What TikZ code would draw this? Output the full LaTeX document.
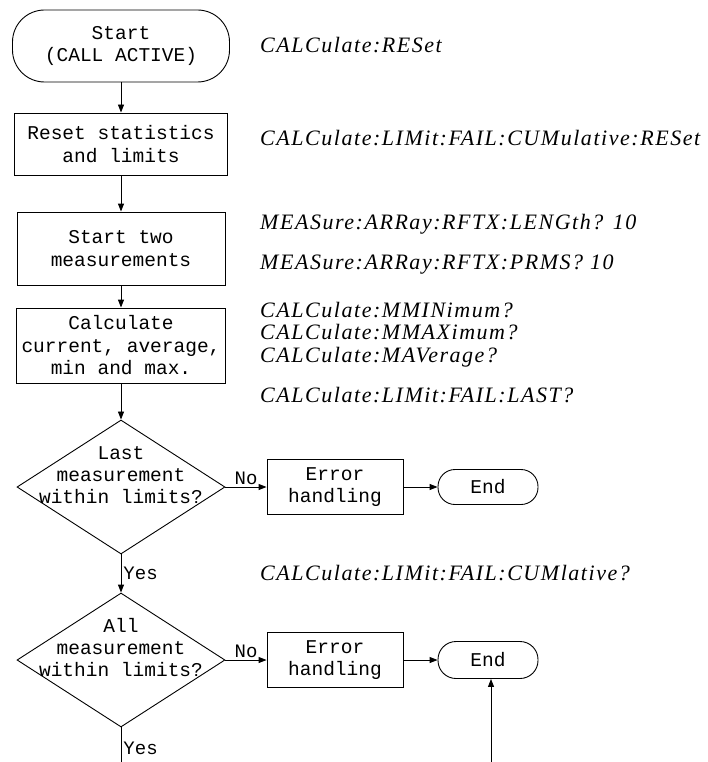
\documentclass[tikz,border=0pt]{standalone}
\usepackage{fontspec}
\setmainfont{Liberation Serif}
\setmonofont{Liberation Mono}
\newfontfamily\cmdfont[LetterSpace=7]{Liberation Serif}
\usetikzlibrary{shapes.geometric, arrows.meta}

\tikzset{
    base/.style = {draw, line width=0.9pt, inner sep=0pt, align=center,
        font=\ttfamily\fontsize{19.5}{22.5}\selectfont},
    box/.style = {base, rectangle},
    term/.style = {base, rectangle},
    decision/.style = {draw, line width=0.9pt, diamond, inner sep=0pt,
        minimum width=208pt, minimum height=134pt},
    dtext/.style = {inner sep=0pt, align=center,
        font=\ttfamily\fontsize{19.5}{22}\selectfont},
    cmd/.style = {anchor=base west, inner sep=0pt,
        font=\cmdfont\itshape\fontsize{22}{22.5}\selectfont},
    lbl/.style = {inner sep=2pt, font=\ttfamily\fontsize{19}{20}\selectfont},
    flow/.style = {line width=0.9pt, -{Triangle[length=8pt, width=6pt]}}
}

\begin{document}
\begin{tikzpicture}[x=1pt, y=-1pt]
    \useasboundingbox (0,0) rectangle (707,762);

    % main column
    \node[term, minimum width=217pt, minimum height=72pt, rounded corners=32pt] (start) at (121,46) {Start\\(CALL ACTIVE)};
    \node[box, minimum width=213pt, minimum height=62pt] (reset) at (121,144) {Reset statistics\\and limits};
    \node[box, minimum width=208pt, minimum height=73pt] (meas) at (121,248.5) {Start two\\measurements};
    \node[box, minimum width=209pt, minimum height=75pt] (calc) at (121,345.5) {Calculate\\current, average,\\min and max.};
    \node[decision] (last) at (121,487) {};
    \node[dtext] (lastq) at ([yshift=12pt]last.center) {Last\\measurement\\within limits?};
    \node[decision] (all) at (121,660) {};
    \node[dtext] (allq) at ([yshift=12pt]all.center) {All\\measurement\\within limits?};
    \coordinate (out) at (121,762);

    % error branches
    \node[box, minimum width=136pt, minimum height=55pt] (err1) at (335,487) {Error\\handling};
    \node[term, minimum width=100pt, minimum height=35pt, rounded corners=17pt] (end1) at (488,487) {End};
    \node[box, minimum width=136pt, minimum height=55pt] (err2) at (335,660) {Error\\handling};
    \node[term, minimum width=100pt, minimum height=37pt, rounded corners=18pt] (end2) at (488,660) {End};
    \coordinate (in) at (491,762);

    \draw[flow] (start) -- (reset);
    \draw[flow] (reset) -- (meas);
    \draw[flow] (meas) -- (calc);
    \draw[flow] (calc) -- (last);
    \draw[flow] (last) -- node[lbl, right] {Yes} (all);
    \draw[flow] (last) -- node[lbl, above] {No} (err1);
    \draw[flow] (err1) -- (end1);
    \draw[flow] (all) -- node[lbl, above] {No} (err2);
    \draw[flow] (err2) -- (end2);
    \draw[line width=0.9pt] (all) -- node[lbl, right, pos=0.6] {Yes} (out);
    \draw[flow] (in) -- (in |- end2.south);

    % commands
    \node[cmd] (c1) at (260,53) {CALCulate:RESet};
    \node[cmd] (c2) at (260,146) {CALCulate:LIMit:FAIL:CUMulative:RESet};
    \node[cmd] (c3) at (260,229) {MEASure:ARRay:RFTX:LENGth? 10};
    \node[cmd] (c4) at (260,269) {MEASure:ARRay:RFTX:PRMS? 10};
    \node[cmd] (c5) at (260,317) {CALCulate:MMINimum?};
    \node[cmd] (c6) at (260,339) {CALCulate:MMAXimum?};
    \node[cmd] (c7) at (260,362) {CALCulate:MAVerage?};
    \node[cmd] (c8) at (260,402) {CALCulate:LIMit:FAIL:LAST?};
    \node[cmd] (c9) at (260,580) {CALCulate:LIMit:FAIL:CUMlative?};
\end{tikzpicture}
\end{document}
